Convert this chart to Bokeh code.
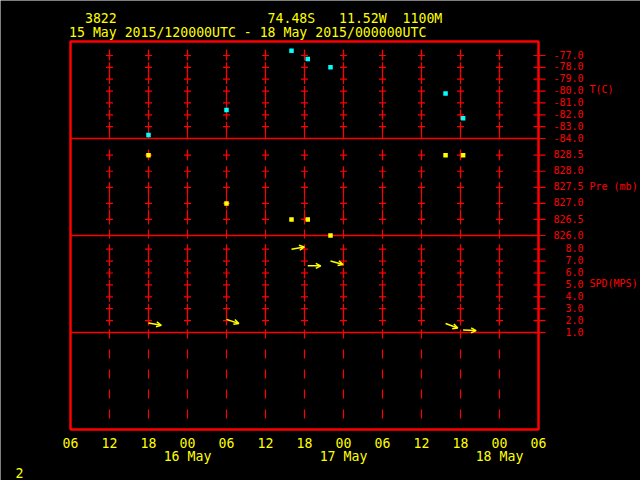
import numpy as np
from bokeh.plotting import figure
from bokeh.models import Range1d, Arrow, OpenHead, ColumnDataSource, BoxAnnotation
from bokeh.embed import file_html
from bokeh.resources import INLINE

# ---------------- data ----------------
station = "3822"
lat_txt = "74.48S"
lon_txt = "11.52W"
elev_txt = "1100M"
period_txt = "15 May 2015/120000UTC - 18 May 2015/000000UTC"
page_no = "2"

# observation times, hours after 15 May 2015 00 UTC
obs_hours = [18.0, 30.0, 40.0, 42.5, 46.0, 63.7, 66.4]
temp_c = [-83.7, -81.6, -76.6, -77.3, -78.0, -80.2, -82.3]
pres_mb = [828.5, 827.0, 826.5, 826.5, 826.0, 828.5, 828.5]
wind_spd = [1.8, 2.1, 8.0, 6.6, 7.0, 1.75, 1.2]
wind_dir = [280, 288, 260, 270, 285, 290, 272]

x_ticks = [6, 12, 18, 24, 30, 36, 42, 48, 54, 60, 66, 72, 78]
x_labels = ["06", "12", "18", "00", "06", "12", "18", "00", "06", "12", "18", "00", "06"]
day_ticks = [24, 48, 72]
day_labels = ["16 May", "17 May", "18 May"]

t_ticks = [-77.0, -78.0, -79.0, -80.0, -81.0, -82.0, -83.0, -84.0]
p_ticks = [828.5, 828.0, 827.5, 827.0, 826.5, 826.0]
s_ticks = [8.0, 7.0, 6.0, 5.0, 4.0, 3.0, 2.0, 1.0]

# panel layout: name -> (value at panel bottom, value span of one panel, panel index from bottom)
panels = {"T": (-84.0, 8.18, 3), "P": (826.0, 3.02, 2), "S": (1.0, 8.15, 1)}
panel_ticks = {"T": t_ticks, "P": p_ticks, "S": s_ticks}
panel_titles = {"T": "T(C)", "P": "Pre (mb)", "S": "SPD(MPS)"}

RED = "#FF0000"
YEL = "#FFFF00"
CYAN = "#00FFFF"
MONO = "DejaVu Sans Mono"

# ---------------- geometry (pixels) ----------------
W, H = 640, 480
FL, FR, FT = 70, 538, 41          # frame left / right / top in pixels
NPANEL = 4
PPU = 97.0                        # pixels per panel
T0, T1 = 6, 78                    # time range of the frame (hours)
PPH = (FR - FL) / (T1 - T0)       # pixels per hour
TXT_FIX = -5.0                    # text baseline correction (px)

xr = Range1d(T0 - FL / PPH, T1 + (W - FR) / PPH)
ytop = NPANEL + FT / PPU
ybot = NPANEL - (H - FT) / PPU
yr = Range1d(ybot, ytop)

p = figure(width=W, height=H, x_range=xr, y_range=yr, output_backend="svg",
           toolbar_location=None, title=None, x_axis_location=None, y_axis_location=None,
           min_border=0, min_border_left=0, min_border_right=0, min_border_top=0,
           min_border_bottom=0)
p.background_fill_color = "black"
p.border_fill_color = "black"
p.outline_line_color = None
p.grid.grid_line_color = None

extra = {}
for name, (bot, span, idx) in panels.items():
    extra[name] = Range1d(bot + (ybot - idx) * span, bot + (ytop - idx) * span)
p.extra_y_ranges = extra

# vertical dashed grid lines
cols = x_ticks[1:-1]
p.segment(x0=cols, y0=[NPANEL] * len(cols), x1=cols, y1=[0] * len(cols),
          line_color=RED, line_width=1.2, line_dash="9 11", line_dash_offset=12)

# crosses at tick levels, separators, right-hand scales
for name, ticks in panel_ticks.items():
    bot, span, idx = panels[name]
    lv = ticks[:-1]
    xx, yy = np.meshgrid(cols, lv)
    p.scatter(xx.ravel(), yy.ravel(), marker="dash", size=7, line_color=RED, line_width=1.2,
              y_range_name=name)
    p.scatter(xx.ravel(), yy.ravel(), marker="dash", size=10, angle=np.pi / 2, line_color=RED,
              line_width=1.2, y_range_name=name)
    # panel separator
    p.segment(x0=[T0], y0=[bot], x1=[T1], y1=[bot], line_color=RED, line_width=1.5,
              y_range_name=name)
    # tick marks across the right border
    n = len(ticks)
    p.segment(x0=[T1 - 5 / PPH] * n, y0=ticks, x1=[T1 + 7 / PPH] * n, y1=ticks,
              line_color=RED, line_width=1.2, y_range_name=name)
    p.text(x=[T1 + 45 / PPH] * n, y=ticks, text=[f"{t:.1f}" for t in ticks],
           text_color=RED, text_font={"value": MONO}, text_font_size="10px",
           text_align="right", text_baseline="alphabetic", y_offset=3.6 + TXT_FIX + 0.5,
           y_range_name=name)
    p.text(x=[T1 + 51 / PPH], y=[idx + 0.5], text=[panel_titles[name]],
           text_color=RED, text_font={"value": MONO}, text_font_size="10px",
           text_align="left", text_baseline="alphabetic", y_offset=3.8 + TXT_FIX + 0.5)

# data
p.scatter(obs_hours, temp_c, marker="square", size=4.5, fill_color=CYAN, line_color=None,
          y_range_name="T")
p.scatter(obs_hours, pres_mb, marker="square", size=4.5, fill_color=YEL, line_color=None,
          y_range_name="P")

px_per_spd = PPU / panels["S"][1]
L = 13.0
rad = np.deg2rad(np.array(wind_dir, dtype=float))
u = -np.sin(rad)
v = -np.cos(rad)
xs = np.array(obs_hours)
ys = np.array(wind_spd)
arr_src = ColumnDataSource(dict(x0=xs, y0=ys, x1=xs + L * u / PPH, y1=ys + L * v / px_per_spd))
p.add_layout(Arrow(source=arr_src, x_start="x0", y_start="y0", x_end="x1", y_end="y1",
                   y_range_name="S", line_color=YEL, line_width=1.5,
                   end=OpenHead(size=5, line_color=YEL, line_width=1.5)))

# frame
p.add_layout(BoxAnnotation(left=T0, right=T1, bottom=0, top=NPANEL, fill_color=None,
                           fill_alpha=0, line_color=RED, line_width=2.5, line_alpha=1))

# bottom time labels
bottom_px = FT + NPANEL * PPU
p.text(x=x_ticks, y=[0] * len(x_ticks), text=x_labels, text_color=YEL,
       text_font={"value": MONO}, text_font_size="13.2px", text_align="center",
       text_baseline="alphabetic", y_offset=447 - bottom_px + TXT_FIX)
p.text(x=day_ticks, y=[0] * len(day_ticks), text=day_labels, text_color=YEL,
       text_font={"value": MONO}, text_font_size="13.2px", text_align="center",
       text_baseline="alphabetic", y_offset=461 - bottom_px + TXT_FIX)

# header texts
nb = "\u00a0"
line1 = nb * 2 + station + nb * 19 + lat_txt + nb * 3 + lon_txt + nb * 2 + elev_txt
hx = T0 + (68.6 - FL) / PPH
p.text(x=[hx, hx], y=[NPANEL, NPANEL], text=[line1, period_txt], text_color=YEL,
       text_font={"value": MONO}, text_font_size="13.2px", text_align="left",
       text_baseline="alphabetic", y_offset=[23 - FT + TXT_FIX, 36.5 - FT + TXT_FIX])
p.text(x=[T0 + (15 - FL) / PPH], y=[0], text=[page_no], text_color=YEL,
       text_font={"value": MONO}, text_font_size="13.2px", text_align="left",
       text_baseline="alphabetic", y_offset=477 - bottom_px + TXT_FIX)

html = file_html(p, INLINE, title="meteogram")
html = html.replace("<body>", '<body style="background-color:#000000;">', 1)
open("out.html", "w").write(html)
